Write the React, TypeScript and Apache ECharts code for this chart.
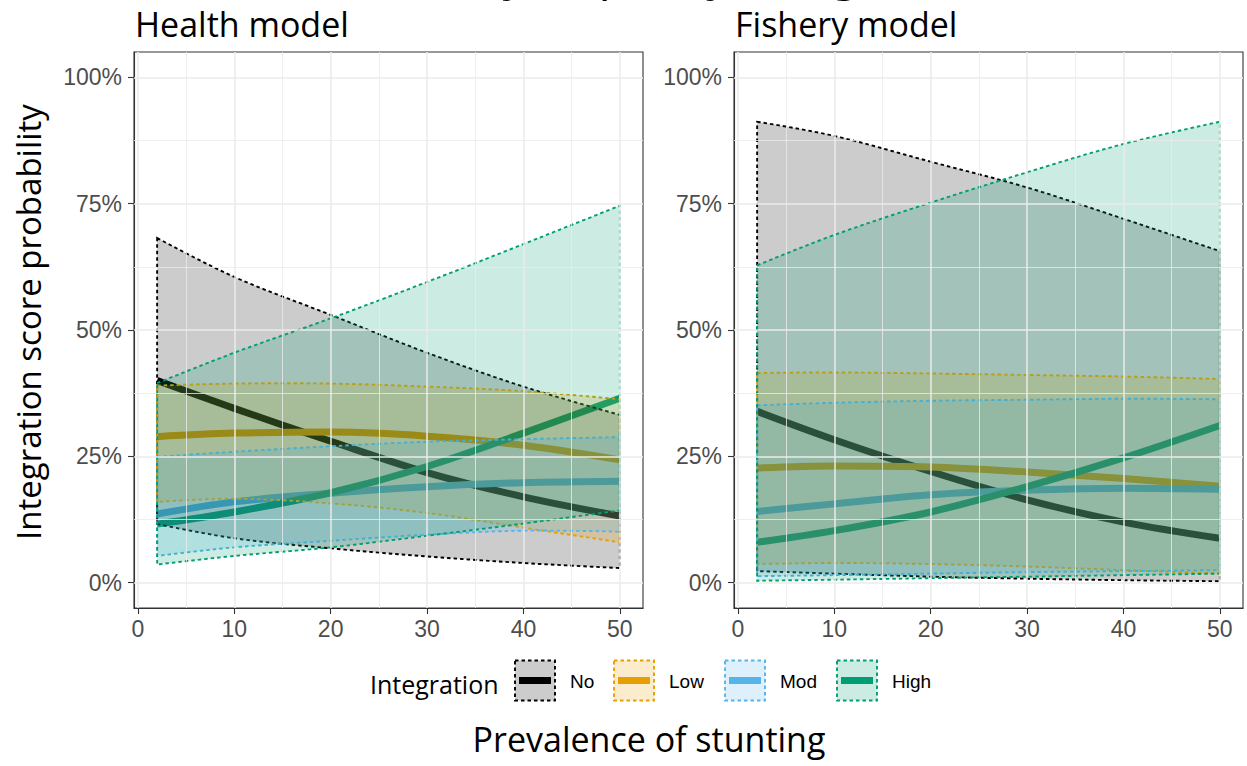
import { useEffect, useRef } from "react";
import * as echarts from "echarts";

// Prevalence of stunting (%) at which the model predictions are drawn
const prevalence = [2, 10, 20, 30, 40, 50];

const levels = ["No", "Low", "Mod", "High"];
const levelColors = ["#000000", "#E69F00", "#56B4E9", "#009E73"];

// Health model: predicted probability (%) with lower / upper bounds
const healthNoMean = [40, 34.5, 28, 21.8, 17, 13.2];
const healthNoLower = [11.6, 8.8, 6.8, 5.2, 3.9, 2.9];
const healthNoUpper = [68.2, 60.5, 53, 45.5, 38.8, 33.2];
const healthLowMean = [28.9, 29.6, 29.8, 29, 27.2, 24.3];
const healthLowLower = [16, 16.6, 15.7, 13.8, 10.9, 8];
const healthLowUpper = [39, 39.4, 39.4, 38.8, 37.9, 36.3];
const healthModMean = [13.6, 16, 17.7, 19, 19.8, 20.1];
const healthModLower = [5.3, 7, 8.3, 9.5, 10.3, 10.1];
const healthModUpper = [24.9, 25.9, 27, 27.9, 28.4, 28.8];
const healthHighMean = [11.6, 14, 17.8, 23, 29.6, 36.5];
const healthHighLower = [3.6, 5.3, 7, 9.3, 11.7, 14.3];
const healthHighUpper = [39.5, 45.5, 52.3, 59.5, 67, 74.6];

// Fishery model
const fisheryNoMean = [33.9, 28.3, 22, 16.4, 12, 8.8];
const fisheryNoLower = [2.3, 1.8, 1.2, 0.8, 0.5, 0.3];
const fisheryNoUpper = [91.2, 88.4, 83.3, 78.2, 72, 65.6];
const fisheryLowMean = [22.7, 23.1, 22.9, 21.9, 20.6, 19.1];
const fisheryLowLower = [3.7, 3.9, 3.7, 3.2, 2.5, 1.8];
const fisheryLowUpper = [41.5, 41.6, 41.4, 41.1, 40.8, 40.3];
const fisheryModMean = [14.1, 15.6, 17.4, 18.3, 18.7, 18.5];
const fisheryModLower = [1.3, 1.5, 1.8, 2.1, 2.3, 2.5];
const fisheryModUpper = [35.1, 35.6, 36, 36.2, 36.4, 36.3];
const fisheryHighMean = [8, 10.3, 14, 19, 24.7, 31.1];
const fisheryHighLower = [0.4, 0.6, 0.9, 1.2, 1.5, 1.8];
const fisheryHighUpper = [62.8, 68.8, 75.2, 81.2, 86.8, 91.2];

const xMajor = [0, 10, 20, 30, 40, 50];
const xMinor = [5, 15, 25, 35, 45];
const yMajor = [0, 25, 50, 75, 100];
const yMinor = [12.5, 37.5, 62.5, 87.5];

const panels = [
  {
    title: "Health model",
    means: [healthNoMean, healthLowMean, healthModMean, healthHighMean],
    lowers: [healthNoLower, healthLowLower, healthModLower, healthHighLower],
    uppers: [healthNoUpper, healthLowUpper, healthModUpper, healthHighUpper],
  },
  {
    title: "Fishery model",
    means: [fisheryNoMean, fisheryLowMean, fisheryModMean, fisheryHighMean],
    lowers: [fisheryNoLower, fisheryLowLower, fisheryModLower, fisheryHighLower],
    uppers: [fisheryNoUpper, fisheryLowUpper, fisheryModUpper, fisheryHighUpper],
  },
];

const TITLE_FONT = "'Open Sans', 'Noto Sans', sans-serif";
const TICK_FONT = "'Liberation Sans', Arial, sans-serif";
const GRID_LEFT = [134, 734];
const GRID_TOP = 52;
const GRID_W = 509;
const GRID_H = 556;
const DASH = [3.5, 3];
const SMOOTH = 0.35;

function hexToRgba(hex: string, a: number) {
  const n = parseInt(hex.slice(1), 16);
  return `rgba(${(n >> 16) & 255},${(n >> 8) & 255},${n & 255},${a})`;
}

// Cardinal-style spline through pixel points, sampled for drawing
function splinePixels(pts: number[][], steps = 14): number[][] {
  const n = pts.length;
  const ctrl = pts.map((p, i) => {
    const prev = pts[Math.max(i - 1, 0)];
    const next = pts[Math.min(i + 1, n - 1)];
    if (i === 0 || i === n - 1) return { cin: p, cout: p };
    const vx = next[0] - prev[0];
    const vy = next[1] - prev[1];
    const d0 = Math.hypot(p[0] - prev[0], p[1] - prev[1]);
    const d1 = Math.hypot(next[0] - p[0], next[1] - p[1]);
    const sum = d0 + d1 || 1;
    return {
      cin: [p[0] - vx * SMOOTH * (d0 / sum), p[1] - vy * SMOOTH * (d0 / sum)],
      cout: [p[0] + vx * SMOOTH * (d1 / sum), p[1] + vy * SMOOTH * (d1 / sum)],
    };
  });
  const out: number[][] = [pts[0]];
  for (let i = 0; i < n - 1; i++) {
    const p0 = pts[i];
    const c1 = ctrl[i].cout;
    const c2 = ctrl[i + 1].cin;
    const p1 = pts[i + 1];
    for (let s = 1; s <= steps; s++) {
      const t = s / steps;
      const u = 1 - t;
      out.push([
        u * u * u * p0[0] + 3 * u * u * t * c1[0] + 3 * u * t * t * c2[0] + t * t * t * p1[0],
        u * u * u * p0[1] + 3 * u * u * t * c1[1] + 3 * u * t * t * c2[1] + t * t * t * p1[1],
      ]);
    }
  }
  return out;
}

function buildOption() {
  const grid = GRID_LEFT.map((left) => ({
    left,
    top: GRID_TOP,
    width: GRID_W,
    height: GRID_H,
    show: true,
    borderColor: "#333333",
    borderWidth: 1.1,
    backgroundColor: "#ffffff",
    containLabel: false,
  }));

  const xAxis = GRID_LEFT.map((_, i) => ({
    gridIndex: i,
    type: "value",
    min: -0.4,
    max: 52.4,
    axisLine: { show: true, onZero: false, lineStyle: { color: "#333333", width: 1.1 } },
    splitLine: { show: false },
    axisTick: { show: true, length: 6, customValues: xMajor, lineStyle: { color: "#333333", width: 1.1 } },
    axisLabel: { customValues: xMajor, color: "#4d4d4d", fontSize: 23, fontFamily: TICK_FONT, margin: 9 },
  }));

  const yAxis = GRID_LEFT.map((_, i) => ({
    gridIndex: i,
    type: "value",
    min: -5,
    max: 105,
    axisLine: { show: true, onZero: false, lineStyle: { color: "#333333", width: 1.1 } },
    splitLine: { show: false },
    axisTick: { show: true, length: 6, customValues: yMajor, lineStyle: { color: "#333333", width: 1.1 } },
    axisLabel: {
      customValues: yMajor,
      color: "#4d4d4d",
      fontSize: 23,
      fontFamily: TICK_FONT,
      margin: 12,
      formatter: (v: number) => `${v}%`,
    },
  }));

  const series: any[] = [];

  panels.forEach((panel, p) => {
    const axes = { xAxisIndex: p, yAxisIndex: p };

    // background grid lines
    series.push({
      type: "line",
      ...axes,
      data: prevalence.map((x, k) => [x, panel.means[0][k]]),
      showSymbol: false,
      silent: true,
      lineStyle: { opacity: 0 },
      z: 1,
      markLine: {
        silent: true,
        symbol: ["none", "none"],
        label: { show: false },
        emphasis: { disabled: true },
        data: [
          ...xMinor.map((v) => ({ xAxis: v, lineStyle: { color: "#ebebeb", width: 0.8, type: "solid" } })),
          ...yMinor.map((v) => ({ yAxis: v, lineStyle: { color: "#ebebeb", width: 0.8, type: "solid" } })),
          ...xMajor.map((v) => ({ xAxis: v, lineStyle: { color: "#ebebeb", width: 1.5, type: "solid" } })),
          ...yMajor.map((v) => ({ yAxis: v, lineStyle: { color: "#ebebeb", width: 1.5, type: "solid" } })),
        ],
      },
    });

    // fitted probability curves (underneath the ribbons)
    levels.forEach((lvl, i) => {
      series.push({
        name: lvl,
        type: "line",
        ...axes,
        data: prevalence.map((x, k) => [x, panel.means[i][k]]),
        smooth: SMOOTH,
        showSymbol: false,
        silent: true,
        lineStyle: { color: levelColors[i], width: 7, cap: "butt" },
        z: 2,
      });
    });

    // uncertainty ribbons with dotted outlines
    levels.forEach((lvl, i) => {
      const color = levelColors[i];
      const lower = panel.lowers[i];
      const upper = panel.uppers[i];
      series.push({
        name: `${lvl} interval`,
        type: "custom",
        coordinateSystem: "cartesian2d",
        ...axes,
        data: prevalence.map((x, k) => [x, lower[k], upper[k]]),
        encode: { x: 0, y: [1, 2] },
        silent: true,
        clip: false,
        z: 3,
        renderItem: (params: any, api: any) => {
          if (params.dataIndex !== 0) return null;
          const top = splinePixels(prevalence.map((x, k) => api.coord([x, upper[k]])));
          const bottom = splinePixels(prevalence.map((x, k) => api.coord([x, lower[k]])));
          const points = top.concat(bottom.reverse());
          return {
            type: "polygon",
            shape: { points },
            style: {
              fill: hexToRgba(color, 0.2),
              stroke: color,
              lineWidth: 1.9,
              lineDash: DASH,
            },
          };
        },
      });
    });
  });

  // legend drawn as keys: dotted box with translucent fill and a thick line
  const keyX = [515, 614, 725, 837];
  const legendItems: any[] = [
    {
      type: "text",
      x: 370,
      y: 684,
      style: {
        text: "Integration",
        font: `25px ${TITLE_FONT}`,
        fill: "#000000",
        textAlign: "left",
        textVerticalAlign: "middle",
      },
    },
  ];
  levels.forEach((lvl, i) => {
    const x = keyX[i];
    legendItems.push({
      type: "rect",
      shape: { x, y: 660.5, width: 40, height: 40 },
      style: { fill: hexToRgba(levelColors[i], 0.2), stroke: levelColors[i], lineWidth: 1.9, lineDash: DASH },
    });
    legendItems.push({
      type: "line",
      shape: { x1: x + 4, y1: 680.5, x2: x + 36, y2: 680.5 },
      style: { stroke: levelColors[i], lineWidth: 7 },
    });
    legendItems.push({
      type: "text",
      x: x + 55,
      y: 681,
      style: {
        text: lvl,
        font: `19px ${TICK_FONT}`,
        fill: "#000000",
        textAlign: "left",
        textVerticalAlign: "middle",
      },
    });
  });

  const graphic: any[] = [
    {
      type: "text",
      x: 638,
      y: -30,
      style: {
        text: "Probability of policy integration",
        font: `49px ${TITLE_FONT}`,
        fill: "#000000",
        textAlign: "center",
        textVerticalAlign: "middle",
      },
    },
    ...panels.map((panel, p) => ({
      type: "text",
      x: GRID_LEFT[p] + 1,
      y: 23.5,
      style: {
        text: panel.title,
        font: `34px ${TITLE_FONT}`,
        fill: "#000000",
        textAlign: "left",
        textVerticalAlign: "middle",
      },
    })),
    {
      type: "text",
      x: 28,
      y: 322,
      rotation: Math.PI / 2,
      style: {
        text: "Integration score probability",
        font: `33px ${TITLE_FONT}`,
        fill: "#000000",
        textAlign: "center",
        textVerticalAlign: "middle",
      },
    },
    {
      type: "text",
      x: 649,
      y: 739,
      style: {
        text: "Prevalence of stunting",
        font: `34px ${TITLE_FONT}`,
        fill: "#000000",
        textAlign: "center",
        textVerticalAlign: "middle",
      },
    },
    ...legendItems,
  ];

  return {
    animation: false,
    backgroundColor: "#ffffff",
    grid,
    xAxis,
    yAxis,
    series,
    graphic,
  };
}

export default function App() {
  const ref = useRef<HTMLDivElement>(null);

  useEffect(() => {
    if (!ref.current) return;
    const chart = echarts.init(ref.current, undefined, { renderer: "svg" });
    chart.setOption(buildOption() as any);
    return () => chart.dispose();
  }, []);

  return (
    <div
      ref={ref}
      style={{ position: "fixed", left: 0, top: 0, width: 1247, height: 766, background: "#ffffff" }}
    />
  );
}
